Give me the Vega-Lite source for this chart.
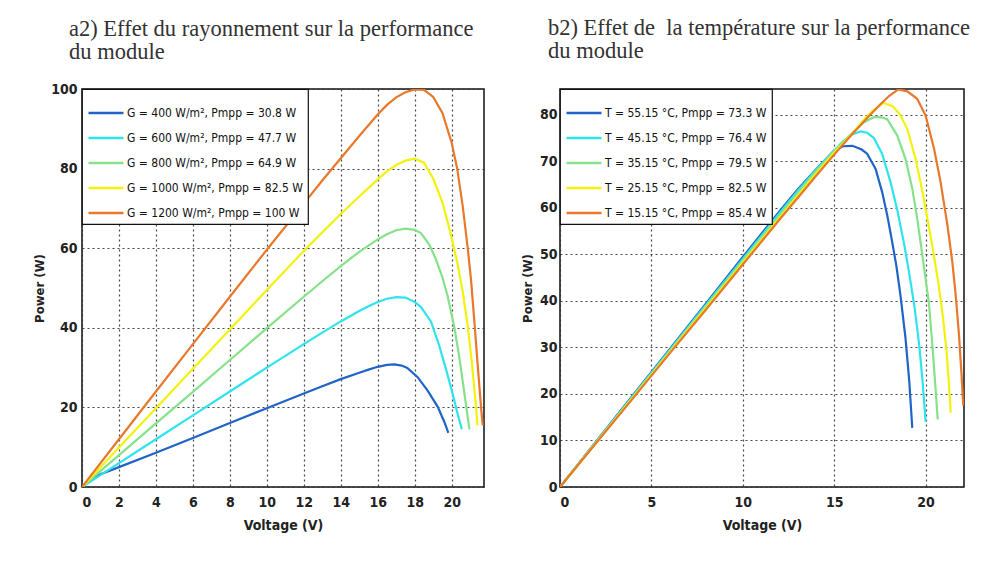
{
  "$schema": "https://vega.github.io/schema/vega-lite/v6.json",
  "background": "white",
  "padding": {"left": 32, "top": 16, "right": 5, "bottom": 5},
  "spacing": 35,
  "config": {
    "font": "DejaVu Sans Condensed, Liberation Sans, sans-serif",
    "view": {"stroke": "#111", "strokeWidth": 1.5},
    "axis": {
      "grid": true, "gridColor": "#333", "gridDash": [2, 3], "gridWidth": 1.2, "gridOpacity": 0.9,
      "domain": false, "ticks": false,
      "labelFont": "DejaVu Sans Condensed, Liberation Sans, sans-serif", "labelFontWeight": "bold", "labelFontSize": 14, "labelColor": "#222",
      "titleFont": "DejaVu Sans Condensed, Liberation Sans, sans-serif", "titleFontWeight": "bold", "titleColor": "#222"
    },
    "title": {"font": "Liberation Serif", "fontSize": 22.5, "fontWeight": "normal", "color": "#333", "anchor": "start", "frame": "group", "lineHeight": 23},
    "legend": {
      "orient": "top-left", "offset": 0, "padding": 5, "rowPadding": 0,
      "strokeColor": "#111", "strokeWidth": 1.2, "fillColor": "white",
      "symbolType": "stroke", "symbolSize": 1225, "symbolStrokeWidth": 2.5,
      "labelFont": "DejaVu Sans Condensed, Liberation Sans, sans-serif", "labelFontSize": 12, "labelColor": "#111", "labelLimit": 400, "labelOffset": 2
    }
  },
  "datasets": {
    "irr": [
      {"s": "G = 400 W/m², Pmpp = 30.8 W", "V": 0, "P": 0},
      {"s": "G = 400 W/m², Pmpp = 30.8 W", "V": 0.5, "P": 1.8},
      {"s": "G = 400 W/m², Pmpp = 30.8 W", "V": 1, "P": 3.2},
      {"s": "G = 400 W/m², Pmpp = 30.8 W", "V": 2, "P": 5.0},
      {"s": "G = 400 W/m², Pmpp = 30.8 W", "V": 4, "P": 8.6},
      {"s": "G = 400 W/m², Pmpp = 30.8 W", "V": 6, "P": 12.3},
      {"s": "G = 400 W/m², Pmpp = 30.8 W", "V": 8, "P": 16.1},
      {"s": "G = 400 W/m², Pmpp = 30.8 W", "V": 10, "P": 19.8},
      {"s": "G = 400 W/m², Pmpp = 30.8 W", "V": 12, "P": 23.5},
      {"s": "G = 400 W/m², Pmpp = 30.8 W", "V": 13, "P": 25.3},
      {"s": "G = 400 W/m², Pmpp = 30.8 W", "V": 14, "P": 27.1},
      {"s": "G = 400 W/m², Pmpp = 30.8 W", "V": 15, "P": 28.7},
      {"s": "G = 400 W/m², Pmpp = 30.8 W", "V": 15.5, "P": 29.5},
      {"s": "G = 400 W/m², Pmpp = 30.8 W", "V": 16, "P": 30.2},
      {"s": "G = 400 W/m², Pmpp = 30.8 W", "V": 16.5, "P": 30.7},
      {"s": "G = 400 W/m², Pmpp = 30.8 W", "V": 16.9, "P": 30.8},
      {"s": "G = 400 W/m², Pmpp = 30.8 W", "V": 17.3, "P": 30.5},
      {"s": "G = 400 W/m², Pmpp = 30.8 W", "V": 17.6, "P": 29.9},
      {"s": "G = 400 W/m², Pmpp = 30.8 W", "V": 18.16, "P": 27.6},
      {"s": "G = 400 W/m², Pmpp = 30.8 W", "V": 18.7, "P": 24.2},
      {"s": "G = 400 W/m², Pmpp = 30.8 W", "V": 19.24, "P": 20.2},
      {"s": "G = 400 W/m², Pmpp = 30.8 W", "V": 19.6, "P": 16.4},
      {"s": "G = 400 W/m², Pmpp = 30.8 W", "V": 19.82, "P": 13.6},
      {"s": "G = 600 W/m², Pmpp = 47.7 W", "V": 0, "P": 0},
      {"s": "G = 600 W/m², Pmpp = 47.7 W", "V": 2, "P": 6.0},
      {"s": "G = 600 W/m², Pmpp = 47.7 W", "V": 4, "P": 12.0},
      {"s": "G = 600 W/m², Pmpp = 47.7 W", "V": 6, "P": 18.0},
      {"s": "G = 600 W/m², Pmpp = 47.7 W", "V": 8, "P": 24.0},
      {"s": "G = 600 W/m², Pmpp = 47.7 W", "V": 10, "P": 30.0},
      {"s": "G = 600 W/m², Pmpp = 47.7 W", "V": 12, "P": 35.9},
      {"s": "G = 600 W/m², Pmpp = 47.7 W", "V": 13, "P": 38.8},
      {"s": "G = 600 W/m², Pmpp = 47.7 W", "V": 14, "P": 41.6},
      {"s": "G = 600 W/m², Pmpp = 47.7 W", "V": 15, "P": 44.2},
      {"s": "G = 600 W/m², Pmpp = 47.7 W", "V": 15.5, "P": 45.4},
      {"s": "G = 600 W/m², Pmpp = 47.7 W", "V": 16, "P": 46.5},
      {"s": "G = 600 W/m², Pmpp = 47.7 W", "V": 16.5, "P": 47.3},
      {"s": "G = 600 W/m², Pmpp = 47.7 W", "V": 17, "P": 47.7},
      {"s": "G = 600 W/m², Pmpp = 47.7 W", "V": 17.5, "P": 47.6},
      {"s": "G = 600 W/m², Pmpp = 47.7 W", "V": 18, "P": 46.5},
      {"s": "G = 600 W/m², Pmpp = 47.7 W", "V": 18.34, "P": 45.2},
      {"s": "G = 600 W/m², Pmpp = 47.7 W", "V": 18.88, "P": 41.6},
      {"s": "G = 600 W/m², Pmpp = 47.7 W", "V": 19.33, "P": 35.5},
      {"s": "G = 600 W/m², Pmpp = 47.7 W", "V": 19.7, "P": 29.5},
      {"s": "G = 600 W/m², Pmpp = 47.7 W", "V": 20.05, "P": 23.5},
      {"s": "G = 600 W/m², Pmpp = 47.7 W", "V": 20.3, "P": 18.8},
      {"s": "G = 600 W/m², Pmpp = 47.7 W", "V": 20.55, "P": 14.5},
      {"s": "G = 800 W/m², Pmpp = 64.9 W", "V": 0, "P": 0},
      {"s": "G = 800 W/m², Pmpp = 64.9 W", "V": 2, "P": 8.0},
      {"s": "G = 800 W/m², Pmpp = 64.9 W", "V": 4, "P": 16.0},
      {"s": "G = 800 W/m², Pmpp = 64.9 W", "V": 6, "P": 23.9},
      {"s": "G = 800 W/m², Pmpp = 64.9 W", "V": 8, "P": 31.9},
      {"s": "G = 800 W/m², Pmpp = 64.9 W", "V": 10, "P": 39.9},
      {"s": "G = 800 W/m², Pmpp = 64.9 W", "V": 12, "P": 47.8},
      {"s": "G = 800 W/m², Pmpp = 64.9 W", "V": 13, "P": 51.7},
      {"s": "G = 800 W/m², Pmpp = 64.9 W", "V": 14, "P": 55.5},
      {"s": "G = 800 W/m², Pmpp = 64.9 W", "V": 15, "P": 59.1},
      {"s": "G = 800 W/m², Pmpp = 64.9 W", "V": 16, "P": 62.2},
      {"s": "G = 800 W/m², Pmpp = 64.9 W", "V": 16.5, "P": 63.5},
      {"s": "G = 800 W/m², Pmpp = 64.9 W", "V": 17, "P": 64.5},
      {"s": "G = 800 W/m², Pmpp = 64.9 W", "V": 17.5, "P": 64.9},
      {"s": "G = 800 W/m², Pmpp = 64.9 W", "V": 18, "P": 64.6},
      {"s": "G = 800 W/m², Pmpp = 64.9 W", "V": 18.34, "P": 63.8},
      {"s": "G = 800 W/m², Pmpp = 64.9 W", "V": 18.8, "P": 60.8},
      {"s": "G = 800 W/m², Pmpp = 64.9 W", "V": 19.15, "P": 57.2},
      {"s": "G = 800 W/m², Pmpp = 64.9 W", "V": 19.5, "P": 52.7},
      {"s": "G = 800 W/m², Pmpp = 64.9 W", "V": 19.78, "P": 48.0},
      {"s": "G = 800 W/m², Pmpp = 64.9 W", "V": 20.15, "P": 40.0},
      {"s": "G = 800 W/m², Pmpp = 64.9 W", "V": 20.4, "P": 33.0},
      {"s": "G = 800 W/m², Pmpp = 64.9 W", "V": 20.6, "P": 26.5},
      {"s": "G = 800 W/m², Pmpp = 64.9 W", "V": 20.78, "P": 20.5},
      {"s": "G = 800 W/m², Pmpp = 64.9 W", "V": 20.96, "P": 14.5},
      {"s": "G = 1000 W/m², Pmpp = 82.5 W", "V": 0, "P": 0},
      {"s": "G = 1000 W/m², Pmpp = 82.5 W", "V": 2, "P": 9.9},
      {"s": "G = 1000 W/m², Pmpp = 82.5 W", "V": 4, "P": 19.8},
      {"s": "G = 1000 W/m², Pmpp = 82.5 W", "V": 6, "P": 29.7},
      {"s": "G = 1000 W/m², Pmpp = 82.5 W", "V": 8, "P": 39.6},
      {"s": "G = 1000 W/m², Pmpp = 82.5 W", "V": 10, "P": 49.5},
      {"s": "G = 1000 W/m², Pmpp = 82.5 W", "V": 12, "P": 59.3},
      {"s": "G = 1000 W/m², Pmpp = 82.5 W", "V": 13, "P": 64.0},
      {"s": "G = 1000 W/m², Pmpp = 82.5 W", "V": 14, "P": 68.6},
      {"s": "G = 1000 W/m², Pmpp = 82.5 W", "V": 15, "P": 73.0},
      {"s": "G = 1000 W/m², Pmpp = 82.5 W", "V": 16, "P": 77.3},
      {"s": "G = 1000 W/m², Pmpp = 82.5 W", "V": 16.5, "P": 79.3},
      {"s": "G = 1000 W/m², Pmpp = 82.5 W", "V": 17, "P": 80.9},
      {"s": "G = 1000 W/m², Pmpp = 82.5 W", "V": 17.5, "P": 82.0},
      {"s": "G = 1000 W/m², Pmpp = 82.5 W", "V": 18, "P": 82.5},
      {"s": "G = 1000 W/m², Pmpp = 82.5 W", "V": 18.5, "P": 81.5},
      {"s": "G = 1000 W/m², Pmpp = 82.5 W", "V": 19, "P": 77.5},
      {"s": "G = 1000 W/m², Pmpp = 82.5 W", "V": 19.5, "P": 71.5},
      {"s": "G = 1000 W/m², Pmpp = 82.5 W", "V": 19.9, "P": 64.5},
      {"s": "G = 1000 W/m², Pmpp = 82.5 W", "V": 20.3, "P": 56.5},
      {"s": "G = 1000 W/m², Pmpp = 82.5 W", "V": 20.6, "P": 49.0},
      {"s": "G = 1000 W/m², Pmpp = 82.5 W", "V": 20.87, "P": 40.5},
      {"s": "G = 1000 W/m², Pmpp = 82.5 W", "V": 21.1, "P": 31.0},
      {"s": "G = 1000 W/m², Pmpp = 82.5 W", "V": 21.3, "P": 21.0},
      {"s": "G = 1000 W/m², Pmpp = 82.5 W", "V": 21.4, "P": 15.5},
      {"s": "G = 1200 W/m², Pmpp = 100 W", "V": 0, "P": 0},
      {"s": "G = 1200 W/m², Pmpp = 100 W", "V": 2, "P": 12.0},
      {"s": "G = 1200 W/m², Pmpp = 100 W", "V": 4, "P": 24.0},
      {"s": "G = 1200 W/m², Pmpp = 100 W", "V": 6, "P": 35.9},
      {"s": "G = 1200 W/m², Pmpp = 100 W", "V": 8, "P": 47.8},
      {"s": "G = 1200 W/m², Pmpp = 100 W", "V": 10, "P": 59.6},
      {"s": "G = 1200 W/m², Pmpp = 100 W", "V": 12, "P": 71.2},
      {"s": "G = 1200 W/m², Pmpp = 100 W", "V": 13, "P": 77.0},
      {"s": "G = 1200 W/m², Pmpp = 100 W", "V": 14, "P": 82.6},
      {"s": "G = 1200 W/m², Pmpp = 100 W", "V": 15, "P": 88.2},
      {"s": "G = 1200 W/m², Pmpp = 100 W", "V": 16, "P": 93.6},
      {"s": "G = 1200 W/m², Pmpp = 100 W", "V": 16.5, "P": 96.0},
      {"s": "G = 1200 W/m², Pmpp = 100 W", "V": 17, "P": 97.9},
      {"s": "G = 1200 W/m², Pmpp = 100 W", "V": 17.5, "P": 99.2},
      {"s": "G = 1200 W/m², Pmpp = 100 W", "V": 18, "P": 99.9},
      {"s": "G = 1200 W/m², Pmpp = 100 W", "V": 18.5, "P": 99.8},
      {"s": "G = 1200 W/m², Pmpp = 100 W", "V": 19, "P": 98.0},
      {"s": "G = 1200 W/m², Pmpp = 100 W", "V": 19.5, "P": 94.0},
      {"s": "G = 1200 W/m², Pmpp = 100 W", "V": 20, "P": 86.5},
      {"s": "G = 1200 W/m², Pmpp = 100 W", "V": 20.3, "P": 80.0},
      {"s": "G = 1200 W/m², Pmpp = 100 W", "V": 20.6, "P": 70.5},
      {"s": "G = 1200 W/m², Pmpp = 100 W", "V": 20.87, "P": 60.0},
      {"s": "G = 1200 W/m², Pmpp = 100 W", "V": 21.05, "P": 52.0},
      {"s": "G = 1200 W/m², Pmpp = 100 W", "V": 21.23, "P": 41.5},
      {"s": "G = 1200 W/m², Pmpp = 100 W", "V": 21.42, "P": 30.0},
      {"s": "G = 1200 W/m², Pmpp = 100 W", "V": 21.6, "P": 19.5},
      {"s": "G = 1200 W/m², Pmpp = 100 W", "V": 21.68, "P": 15.5}
    ],
    "temp": [
      {"s": "T = 55.15 °C, Pmpp = 73.3 W", "V": 0, "P": 0},
      {"s": "T = 55.15 °C, Pmpp = 73.3 W", "V": 2, "P": 9.88},
      {"s": "T = 55.15 °C, Pmpp = 73.3 W", "V": 4, "P": 19.8},
      {"s": "T = 55.15 °C, Pmpp = 73.3 W", "V": 6, "P": 29.6},
      {"s": "T = 55.15 °C, Pmpp = 73.3 W", "V": 8, "P": 39.5},
      {"s": "T = 55.15 °C, Pmpp = 73.3 W", "V": 10, "P": 49.4},
      {"s": "T = 55.15 °C, Pmpp = 73.3 W", "V": 12, "P": 59.2},
      {"s": "T = 55.15 °C, Pmpp = 73.3 W", "V": 13, "P": 63.9},
      {"s": "T = 55.15 °C, Pmpp = 73.3 W", "V": 14, "P": 68.2},
      {"s": "T = 55.15 °C, Pmpp = 73.3 W", "V": 15, "P": 72.3},
      {"s": "T = 55.15 °C, Pmpp = 73.3 W", "V": 15.5, "P": 73.2},
      {"s": "T = 55.15 °C, Pmpp = 73.3 W", "V": 16, "P": 73.3},
      {"s": "T = 55.15 °C, Pmpp = 73.3 W", "V": 16.5, "P": 72.5},
      {"s": "T = 55.15 °C, Pmpp = 73.3 W", "V": 16.8, "P": 71.6},
      {"s": "T = 55.15 °C, Pmpp = 73.3 W", "V": 17.26, "P": 68.4},
      {"s": "T = 55.15 °C, Pmpp = 73.3 W", "V": 17.62, "P": 63.4},
      {"s": "T = 55.15 °C, Pmpp = 73.3 W", "V": 17.9, "P": 58.4},
      {"s": "T = 55.15 °C, Pmpp = 73.3 W", "V": 18.17, "P": 52.7},
      {"s": "T = 55.15 °C, Pmpp = 73.3 W", "V": 18.4, "P": 47.5},
      {"s": "T = 55.15 °C, Pmpp = 73.3 W", "V": 18.63, "P": 41.0},
      {"s": "T = 55.15 °C, Pmpp = 73.3 W", "V": 18.9, "P": 32.0},
      {"s": "T = 55.15 °C, Pmpp = 73.3 W", "V": 19.1, "P": 23.0},
      {"s": "T = 55.15 °C, Pmpp = 73.3 W", "V": 19.27, "P": 12.7},
      {"s": "T = 45.15 °C, Pmpp = 76.4 W", "V": 0, "P": 0},
      {"s": "T = 45.15 °C, Pmpp = 76.4 W", "V": 2, "P": 9.8},
      {"s": "T = 45.15 °C, Pmpp = 76.4 W", "V": 4, "P": 19.6},
      {"s": "T = 45.15 °C, Pmpp = 76.4 W", "V": 6, "P": 29.4},
      {"s": "T = 45.15 °C, Pmpp = 76.4 W", "V": 8, "P": 39.2},
      {"s": "T = 45.15 °C, Pmpp = 76.4 W", "V": 10, "P": 49.0},
      {"s": "T = 45.15 °C, Pmpp = 76.4 W", "V": 12, "P": 58.8},
      {"s": "T = 45.15 °C, Pmpp = 76.4 W", "V": 13, "P": 63.6},
      {"s": "T = 45.15 °C, Pmpp = 76.4 W", "V": 14, "P": 68.1},
      {"s": "T = 45.15 °C, Pmpp = 76.4 W", "V": 15, "P": 72.3},
      {"s": "T = 45.15 °C, Pmpp = 76.4 W", "V": 15.5, "P": 74.3},
      {"s": "T = 45.15 °C, Pmpp = 76.4 W", "V": 16, "P": 75.8},
      {"s": "T = 45.15 °C, Pmpp = 76.4 W", "V": 16.44, "P": 76.4},
      {"s": "T = 45.15 °C, Pmpp = 76.4 W", "V": 16.8, "P": 76.1},
      {"s": "T = 45.15 °C, Pmpp = 76.4 W", "V": 17.17, "P": 75.0},
      {"s": "T = 45.15 °C, Pmpp = 76.4 W", "V": 17.62, "P": 71.6},
      {"s": "T = 45.15 °C, Pmpp = 76.4 W", "V": 18.08, "P": 65.5},
      {"s": "T = 45.15 °C, Pmpp = 76.4 W", "V": 18.45, "P": 59.5},
      {"s": "T = 45.15 °C, Pmpp = 76.4 W", "V": 18.81, "P": 52.5},
      {"s": "T = 45.15 °C, Pmpp = 76.4 W", "V": 19.1, "P": 46.0},
      {"s": "T = 45.15 °C, Pmpp = 76.4 W", "V": 19.4, "P": 38.5},
      {"s": "T = 45.15 °C, Pmpp = 76.4 W", "V": 19.65, "P": 30.5},
      {"s": "T = 45.15 °C, Pmpp = 76.4 W", "V": 19.85, "P": 22.0},
      {"s": "T = 45.15 °C, Pmpp = 76.4 W", "V": 20.0, "P": 14.0},
      {"s": "T = 35.15 °C, Pmpp = 79.5 W", "V": 0, "P": 0},
      {"s": "T = 35.15 °C, Pmpp = 79.5 W", "V": 2, "P": 9.72},
      {"s": "T = 35.15 °C, Pmpp = 79.5 W", "V": 4, "P": 19.4},
      {"s": "T = 35.15 °C, Pmpp = 79.5 W", "V": 6, "P": 29.2},
      {"s": "T = 35.15 °C, Pmpp = 79.5 W", "V": 8, "P": 38.9},
      {"s": "T = 35.15 °C, Pmpp = 79.5 W", "V": 10, "P": 48.6},
      {"s": "T = 35.15 °C, Pmpp = 79.5 W", "V": 12, "P": 58.3},
      {"s": "T = 35.15 °C, Pmpp = 79.5 W", "V": 13, "P": 63.1},
      {"s": "T = 35.15 °C, Pmpp = 79.5 W", "V": 14, "P": 67.8},
      {"s": "T = 35.15 °C, Pmpp = 79.5 W", "V": 15, "P": 72.2},
      {"s": "T = 35.15 °C, Pmpp = 79.5 W", "V": 16, "P": 76.1},
      {"s": "T = 35.15 °C, Pmpp = 79.5 W", "V": 16.6, "P": 78.3},
      {"s": "T = 35.15 °C, Pmpp = 79.5 W", "V": 17.2, "P": 79.5},
      {"s": "T = 35.15 °C, Pmpp = 79.5 W", "V": 17.6, "P": 79.4},
      {"s": "T = 35.15 °C, Pmpp = 79.5 W", "V": 17.9, "P": 79.0},
      {"s": "T = 35.15 °C, Pmpp = 79.5 W", "V": 18.45, "P": 75.5},
      {"s": "T = 35.15 °C, Pmpp = 79.5 W", "V": 18.9, "P": 70.5},
      {"s": "T = 35.15 °C, Pmpp = 79.5 W", "V": 19.27, "P": 64.1},
      {"s": "T = 35.15 °C, Pmpp = 79.5 W", "V": 19.54, "P": 57.7},
      {"s": "T = 35.15 °C, Pmpp = 79.5 W", "V": 19.85, "P": 49.0},
      {"s": "T = 35.15 °C, Pmpp = 79.5 W", "V": 20.18, "P": 39.5},
      {"s": "T = 35.15 °C, Pmpp = 79.5 W", "V": 20.36, "P": 31.0},
      {"s": "T = 35.15 °C, Pmpp = 79.5 W", "V": 20.5, "P": 23.5},
      {"s": "T = 35.15 °C, Pmpp = 79.5 W", "V": 20.6, "P": 18.0},
      {"s": "T = 35.15 °C, Pmpp = 79.5 W", "V": 20.66, "P": 14.5},
      {"s": "T = 25.15 °C, Pmpp = 82.5 W", "V": 0, "P": 0},
      {"s": "T = 25.15 °C, Pmpp = 82.5 W", "V": 2, "P": 9.64},
      {"s": "T = 25.15 °C, Pmpp = 82.5 W", "V": 4, "P": 19.3},
      {"s": "T = 25.15 °C, Pmpp = 82.5 W", "V": 6, "P": 28.9},
      {"s": "T = 25.15 °C, Pmpp = 82.5 W", "V": 8, "P": 38.6},
      {"s": "T = 25.15 °C, Pmpp = 82.5 W", "V": 10, "P": 48.2},
      {"s": "T = 25.15 °C, Pmpp = 82.5 W", "V": 12, "P": 57.8},
      {"s": "T = 25.15 °C, Pmpp = 82.5 W", "V": 13, "P": 62.6},
      {"s": "T = 25.15 °C, Pmpp = 82.5 W", "V": 14, "P": 67.3},
      {"s": "T = 25.15 °C, Pmpp = 82.5 W", "V": 15, "P": 71.8},
      {"s": "T = 25.15 °C, Pmpp = 82.5 W", "V": 16, "P": 76.0},
      {"s": "T = 25.15 °C, Pmpp = 82.5 W", "V": 16.6, "P": 78.8},
      {"s": "T = 25.15 °C, Pmpp = 82.5 W", "V": 17.1, "P": 80.8},
      {"s": "T = 25.15 °C, Pmpp = 82.5 W", "V": 17.7, "P": 82.5},
      {"s": "T = 25.15 °C, Pmpp = 82.5 W", "V": 18.2, "P": 81.8},
      {"s": "T = 25.15 °C, Pmpp = 82.5 W", "V": 18.6, "P": 80.0},
      {"s": "T = 25.15 °C, Pmpp = 82.5 W", "V": 19.0, "P": 76.9},
      {"s": "T = 25.15 °C, Pmpp = 82.5 W", "V": 19.45, "P": 70.5},
      {"s": "T = 25.15 °C, Pmpp = 82.5 W", "V": 19.82, "P": 63.6},
      {"s": "T = 25.15 °C, Pmpp = 82.5 W", "V": 20.1, "P": 57.6},
      {"s": "T = 25.15 °C, Pmpp = 82.5 W", "V": 20.4, "P": 51.0},
      {"s": "T = 25.15 °C, Pmpp = 82.5 W", "V": 20.7, "P": 43.8},
      {"s": "T = 25.15 °C, Pmpp = 82.5 W", "V": 20.95, "P": 36.5},
      {"s": "T = 25.15 °C, Pmpp = 82.5 W", "V": 21.15, "P": 29.0},
      {"s": "T = 25.15 °C, Pmpp = 82.5 W", "V": 21.28, "P": 22.0},
      {"s": "T = 25.15 °C, Pmpp = 82.5 W", "V": 21.37, "P": 16.0},
      {"s": "T = 15.15 °C, Pmpp = 85.4 W", "V": 0, "P": 0},
      {"s": "T = 15.15 °C, Pmpp = 85.4 W", "V": 2, "P": 9.56},
      {"s": "T = 15.15 °C, Pmpp = 85.4 W", "V": 4, "P": 19.1},
      {"s": "T = 15.15 °C, Pmpp = 85.4 W", "V": 6, "P": 28.7},
      {"s": "T = 15.15 °C, Pmpp = 85.4 W", "V": 8, "P": 38.2},
      {"s": "T = 15.15 °C, Pmpp = 85.4 W", "V": 10, "P": 47.8},
      {"s": "T = 15.15 °C, Pmpp = 85.4 W", "V": 12, "P": 57.4},
      {"s": "T = 15.15 °C, Pmpp = 85.4 W", "V": 13, "P": 62.1},
      {"s": "T = 15.15 °C, Pmpp = 85.4 W", "V": 14, "P": 66.8},
      {"s": "T = 15.15 °C, Pmpp = 85.4 W", "V": 15, "P": 71.4},
      {"s": "T = 15.15 °C, Pmpp = 85.4 W", "V": 16, "P": 75.9},
      {"s": "T = 15.15 °C, Pmpp = 85.4 W", "V": 17, "P": 80.1},
      {"s": "T = 15.15 °C, Pmpp = 85.4 W", "V": 17.5, "P": 82.1},
      {"s": "T = 15.15 °C, Pmpp = 85.4 W", "V": 18, "P": 84.0},
      {"s": "T = 15.15 °C, Pmpp = 85.4 W", "V": 18.5, "P": 85.4},
      {"s": "T = 15.15 °C, Pmpp = 85.4 W", "V": 19.0, "P": 85.0},
      {"s": "T = 15.15 °C, Pmpp = 85.4 W", "V": 19.54, "P": 83.4},
      {"s": "T = 15.15 °C, Pmpp = 85.4 W", "V": 20.0, "P": 79.8},
      {"s": "T = 15.15 °C, Pmpp = 85.4 W", "V": 20.46, "P": 72.7},
      {"s": "T = 15.15 °C, Pmpp = 85.4 W", "V": 20.82, "P": 65.5},
      {"s": "T = 15.15 °C, Pmpp = 85.4 W", "V": 21.19, "P": 56.3},
      {"s": "T = 15.15 °C, Pmpp = 85.4 W", "V": 21.46, "P": 48.4},
      {"s": "T = 15.15 °C, Pmpp = 85.4 W", "V": 21.64, "P": 41.5},
      {"s": "T = 15.15 °C, Pmpp = 85.4 W", "V": 21.82, "P": 33.0},
      {"s": "T = 15.15 °C, Pmpp = 85.4 W", "V": 21.96, "P": 24.5},
      {"s": "T = 15.15 °C, Pmpp = 85.4 W", "V": 22.06, "P": 17.5}
    ]
  },
  "hconcat": [
    {
      "title": {"text": ["a2) Effet du rayonnement sur la performance", "du module"], "dx": -13, "offset": 19},
      "width": 402,
      "height": 398,
      "data": {"name": "irr"},
      "mark": {"type": "line", "strokeWidth": 2.2, "clip": true},
      "encoding": {
        "x": {"field": "V", "type": "quantitative", "scale": {"domain": [0, 21.75], "nice": false},
              "axis": {"values": [0, 2, 4, 6, 8, 10, 12, 14, 16, 18, 20], "title": "Voltage (V)", "titleFontSize": 14, "labelPadding": 8, "titlePadding": 9}},
        "y": {"field": "P", "type": "quantitative", "scale": {"domain": [0, 100], "nice": false},
              "axis": {"values": [0, 20, 40, 60, 80, 100], "title": "Power (W)", "titleFontSize": 13, "labelPadding": 5, "titlePadding": 4}},
        "color": {"field": "s", "type": "nominal",
                  "scale": {"domain": ["G = 400 W/m², Pmpp = 30.8 W", "G = 600 W/m², Pmpp = 47.7 W", "G = 800 W/m², Pmpp = 64.9 W", "G = 1000 W/m², Pmpp = 82.5 W", "G = 1200 W/m², Pmpp = 100 W"],
                            "range": ["#1f64c8", "#2ee3ee", "#86e28a", "#f2f20c", "#e8782a"]},
                  "legend": {"title": null}}
      }
    },
    {
      "title": {"text": ["b2) Effet de\u00a0 la température sur la performance", "du module"], "dx": -12, "offset": 26},
      "width": 404,
      "height": 398,
      "data": {"name": "temp"},
      "mark": {"type": "line", "strokeWidth": 2.2, "clip": true},
      "encoding": {
        "x": {"field": "V", "type": "quantitative", "scale": {"domain": [0, 22.1], "nice": false},
              "axis": {"values": [0, 5, 10, 15, 20], "title": "Voltage (V)", "titleFontSize": 14, "labelPadding": 8, "titlePadding": 9}},
        "y": {"field": "P", "type": "quantitative", "scale": {"domain": [0, 85.5], "nice": false},
              "axis": {"values": [0, 10, 20, 30, 40, 50, 60, 70, 80], "title": "Power (W)", "titleFontSize": 13, "labelPadding": 3, "titlePadding": 5}},
        "color": {"field": "s", "type": "nominal",
                  "scale": {"domain": ["T = 55.15 °C, Pmpp = 73.3 W", "T = 45.15 °C, Pmpp = 76.4 W", "T = 35.15 °C, Pmpp = 79.5 W", "T = 25.15 °C, Pmpp = 82.5 W", "T = 15.15 °C, Pmpp = 85.4 W"],
                            "range": ["#1f64c8", "#2ee3ee", "#86e28a", "#f2f20c", "#e8782a"]},
                  "legend": {"title": null}}
      }
    }
  ],
  "resolve": {"scale": {"color": "independent"}, "legend": {"color": "independent"}}
}
